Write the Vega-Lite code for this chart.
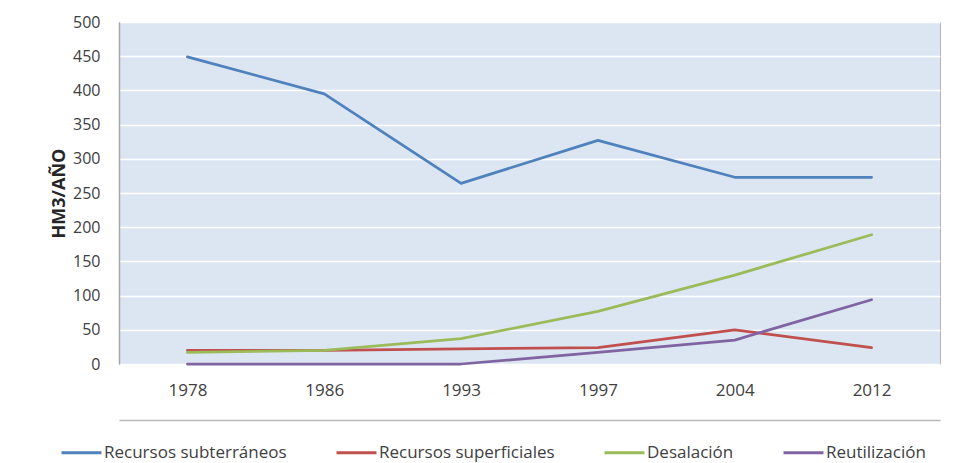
{
  "$schema": "https://vega.github.io/schema/vega-lite/v6.json",
  "width": 821,
  "height": 342,
  "autosize": {"type": "none"},
  "padding": {"left": 119, "top": 22, "right": 13, "bottom": 99},
  "background": "#ffffff",
  "config": {
    "font": "Open Sans",
    "view": {"fill": "#dce6f2", "stroke": "#b4b4b4", "strokeWidth": 1},
    "axis": {"labelFont": "Open Sans", "labelColor": "#404040", "titleFont": "Open Sans"},
    "legend": {"labelFont": "Open Sans"}
  },
  "data": {
    "values": [
      {"year": "1978", "serie": "Recursos subterráneos", "hm3": 449},
      {"year": "1986", "serie": "Recursos subterráneos", "hm3": 395},
      {"year": "1993", "serie": "Recursos subterráneos", "hm3": 264},
      {"year": "1997", "serie": "Recursos subterráneos", "hm3": 327},
      {"year": "2004", "serie": "Recursos subterráneos", "hm3": 273},
      {"year": "2012", "serie": "Recursos subterráneos", "hm3": 273},
      {"year": "1978", "serie": "Recursos superficiales", "hm3": 20},
      {"year": "1986", "serie": "Recursos superficiales", "hm3": 20},
      {"year": "1993", "serie": "Recursos superficiales", "hm3": 22},
      {"year": "1997", "serie": "Recursos superficiales", "hm3": 24},
      {"year": "2004", "serie": "Recursos superficiales", "hm3": 50},
      {"year": "2012", "serie": "Recursos superficiales", "hm3": 24},
      {"year": "1978", "serie": "Desalación", "hm3": 17},
      {"year": "1986", "serie": "Desalación", "hm3": 20},
      {"year": "1993", "serie": "Desalación", "hm3": 37},
      {"year": "1997", "serie": "Desalación", "hm3": 77},
      {"year": "2004", "serie": "Desalación", "hm3": 130},
      {"year": "2012", "serie": "Desalación", "hm3": 189},
      {"year": "1978", "serie": "Reutilización", "hm3": 0},
      {"year": "1986", "serie": "Reutilización", "hm3": 0},
      {"year": "1993", "serie": "Reutilización", "hm3": 0},
      {"year": "1997", "serie": "Reutilización", "hm3": 17},
      {"year": "2004", "serie": "Reutilización", "hm3": 35},
      {"year": "2012", "serie": "Reutilización", "hm3": 94}
    ]
  },
  "layer": [
    {
      "mark": {"type": "line", "strokeWidth": 2.75, "strokeCap": "round", "strokeJoin": "round"},
      "encoding": {
        "x": {
          "field": "year",
          "type": "ordinal",
          "scale": {"type": "point", "padding": 0.5},
          "axis": {
            "title": null,
            "labelAngle": 0,
            "labelFontSize": 17,
            "labelPadding": 18,
            "ticks": false,
            "domain": false,
            "grid": false
          }
        },
        "y": {
          "field": "hm3",
          "type": "quantitative",
          "scale": {"domain": [0, 500], "nice": false},
          "axis": {
            "title": "HM3/AÑO",
            "titleFontSize": 18,
            "titleFontWeight": "bold",
            "titleColor": "#262626",
            "titlePadding": 4,
            "values": [0, 50, 100, 150, 200, 250, 300, 350, 400, 450, 500],
            "labelFontSize": 16,
            "labelPadding": 19,
            "ticks": false,
            "domain": true,
            "domainColor": "#a6a6a6",
            "domainWidth": 1.5,
            "grid": true,
            "gridColor": "#ffffff",
            "gridWidth": 1.5
          }
        },
        "color": {
          "field": "serie",
          "type": "nominal",
          "scale": {
            "domain": ["Recursos subterráneos", "Recursos superficiales", "Desalación", "Reutilización"],
            "range": ["#4f81bd", "#c0504d", "#9bbb59", "#8064a2"]
          },
          "legend": {
            "title": null,
            "orient": "none",
            "direction": "horizontal",
            "legendX": -59,
            "legendY": 409,
            "symbolType": "stroke",
            "symbolSize": 1600,
            "symbolStrokeWidth": 3,
            "labelFontSize": 17,
            "labelColor": "#404040",
            "labelOffset": 1,
            "labelLimit": 300,
            "columnPadding": 43
          }
        }
      }
    },
    {
      "mark": {"type": "rule", "opacity": 0},
      "encoding": {
        "x": {
          "field": "year",
          "type": "ordinal",
          "axis": {
            "orient": "bottom",
            "offset": 56,
            "title": null,
            "labels": false,
            "ticks": false,
            "grid": false,
            "domain": true,
            "domainColor": "#b8b8b8",
            "domainWidth": 1.5
          }
        }
      }
    }
  ],
  "resolve": {"axis": {"x": "independent"}}
}
